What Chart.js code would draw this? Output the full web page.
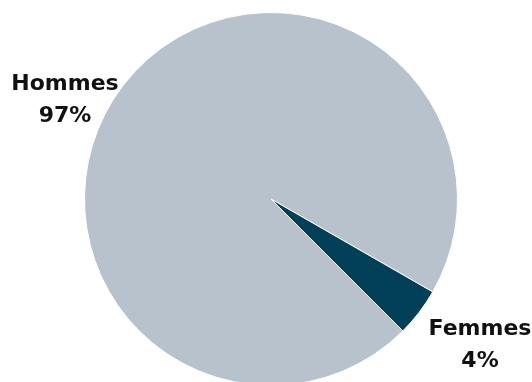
<!DOCTYPE html>
<html>
<head>
<meta charset="utf-8">
<script src="https://cdn.jsdelivr.net/npm/chart.js@4"></script>
<style>
  html, body { margin: 0; padding: 0; background: #fff; overflow: hidden; }
  #wrap { width: 532px; height: 400px; position: relative; }
</style>
</head>
<body>
<div id="wrap"><canvas id="pie"></canvas></div>
<script>
// données
const categories = ["Hommes", "Femmes"];
const parts = [95.8, 4.2];
const partLabels = ["97%", "4%"];
const colors = ["#b8c2cc", "#023f59"];

// étiquettes dessinées à côté du camembert
const labelPlugin = {
  id: "pieLabels",
  afterDraw(chart, args, opts) {
    const ctx = chart.ctx;
    const arcs = chart.getDatasetMeta(0).data;
    ctx.save();
    ctx.font = "bold 22px 'DejaVu Sans'";
    ctx.fillStyle = "#111";
    ctx.textAlign = "center";
    ctx.textBaseline = "alphabetic";
    arcs.forEach((arc, i) => {
      const off = opts.offsets[i];
      const x = arc.x + off[0];
      const y = arc.y + off[1];
      ctx.fillText(categories[i], x, y - 8);
      ctx.fillText(partLabels[i], x, y + 24);
    });
    ctx.restore();
  }
};

new Chart(document.getElementById("pie").getContext("2d"), {
  type: "pie",
  data: {
    labels: categories,
    datasets: [
      {
        data: parts,
        backgroundColor: colors,
        borderColor: "#ffffff",
        borderWidth: 1,
      },
    ],
  },
  options: {
    responsive: true,
    maintainAspectRatio: false,
    animation: false,
    rotation: 135,
    layout: { padding: { top: 12, bottom: 14, left: 84, right: 74 } },
    plugins: {
      legend: { display: false },
      tooltip: { enabled: false },
      pieLabels: { offsets: [[-206, -101], [209, 144]] },
    },
  },
  plugins: [labelPlugin],
});
</script>
</body>
</html>
